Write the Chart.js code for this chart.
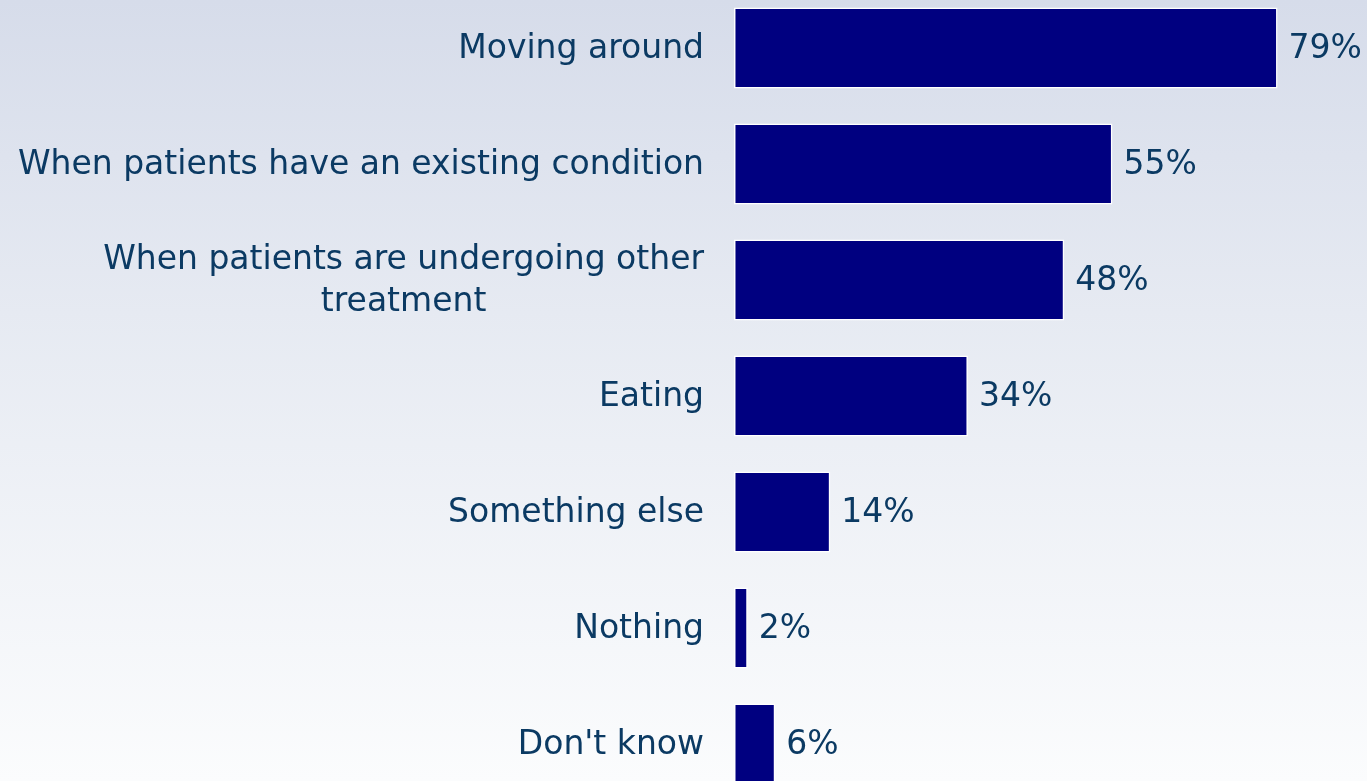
<!DOCTYPE html>
<html>
<head>
<meta charset="utf-8">
<script src="https://cdn.jsdelivr.net/npm/chart.js@4/dist/chart.umd.min.js"></script>
<style>
    html, body {
        margin: 0;
        padding: 0;
        width: 1367px;
        height: 781px;
        overflow: hidden;
    }
    body {
        background: linear-gradient(to bottom, #d6dcea 0%, #e6eaf2 40%, #fbfcfd 100%);
        position: relative;
    }
    #wrap {
        position: absolute;
        left: 0;
        top: -10px;
        width: 1367px;
        height: 812px;
    }
</style>
</head>
<body>
<div id="wrap"><canvas id="chart"></canvas></div>
<script>
// Datos del gráfico
const categories = [
    ['Moving around'],
    ['When patients have an existing condition'],
    ['When patients are undergoing other', 'treatment'],
    ['Eating'],
    ['Something else'],
    ['Nothing'],
    ["Don't know"]
];
const values = [79, 55, 48, 34, 14, 2, 6];
const valueLabels = ['79%', '55%', '48%', '34%', '14%', '2%', '6%'];

const textColor = '#0b3a63';
const fontSpec = '33px "DejaVu Sans", Verdana, sans-serif';

// Etiquetas de categoría y de valor dibujadas a mano
const labelsPlugin = {
    id: 'labels',
    afterDatasetsDraw(chart) {
        const ctx = chart.ctx;
        const yScale = chart.scales.y;
        const bars = chart.getDatasetMeta(0).data;
        ctx.save();
        ctx.font = fontSpec;
        ctx.fillStyle = textColor;
        ctx.textBaseline = 'middle';

        // categorías: bloque alineado a la derecha, líneas centradas
        const rightEdge = chart.chartArea.left - 30;
        const lineHeight = 42;
        categories.forEach((lines, i) => {
            const y = yScale.getPixelForTick(i) + 1;
            const blockW = Math.max(...lines.map(l => ctx.measureText(l).width));
            const top = y - (lines.length - 1) * lineHeight / 2;
            ctx.textAlign = lines.length > 1 ? 'center' : 'right';
            lines.forEach((l, j) => {
                const x = lines.length > 1 ? rightEdge - blockW / 2 : rightEdge;
                ctx.fillText(l, x, top + j * lineHeight);
            });
        });

        // valores al final de cada barra
        ctx.textAlign = 'left';
        bars.forEach((bar, i) => {
            ctx.fillText(valueLabels[i], bar.x + 11, bar.y + 1);
        });
        ctx.restore();
    }
};

const ctx = document.getElementById('chart').getContext('2d');
const chart = new Chart(ctx, {
    type: 'bar',
    data: {
        labels: categories.map(c => c.join(' ')),
        datasets: [{
            data: values,
            backgroundColor: '#000080',
            borderColor: '#ffffff',
            borderWidth: 1.5,
            borderSkipped: false,
            barPercentage: 0.7,
            categoryPercentage: 1
        }]
    },
    options: {
        indexAxis: 'y',
        responsive: true,
        maintainAspectRatio: false,
        animation: false,
        layout: { padding: 0 },
        plugins: {
            legend: { display: false },
            tooltip: { enabled: false }
        },
        scales: {
            x: {
                display: false,
                min: 0,
                max: 92
            },
            y: {
                grid: { display: false },
                border: { display: false },
                ticks: { display: false },
                afterFit(scale) {
                    scale.width = 734;
                }
            }
        }
    },
    plugins: [labelsPlugin]
});
</script>
</body>
</html>
